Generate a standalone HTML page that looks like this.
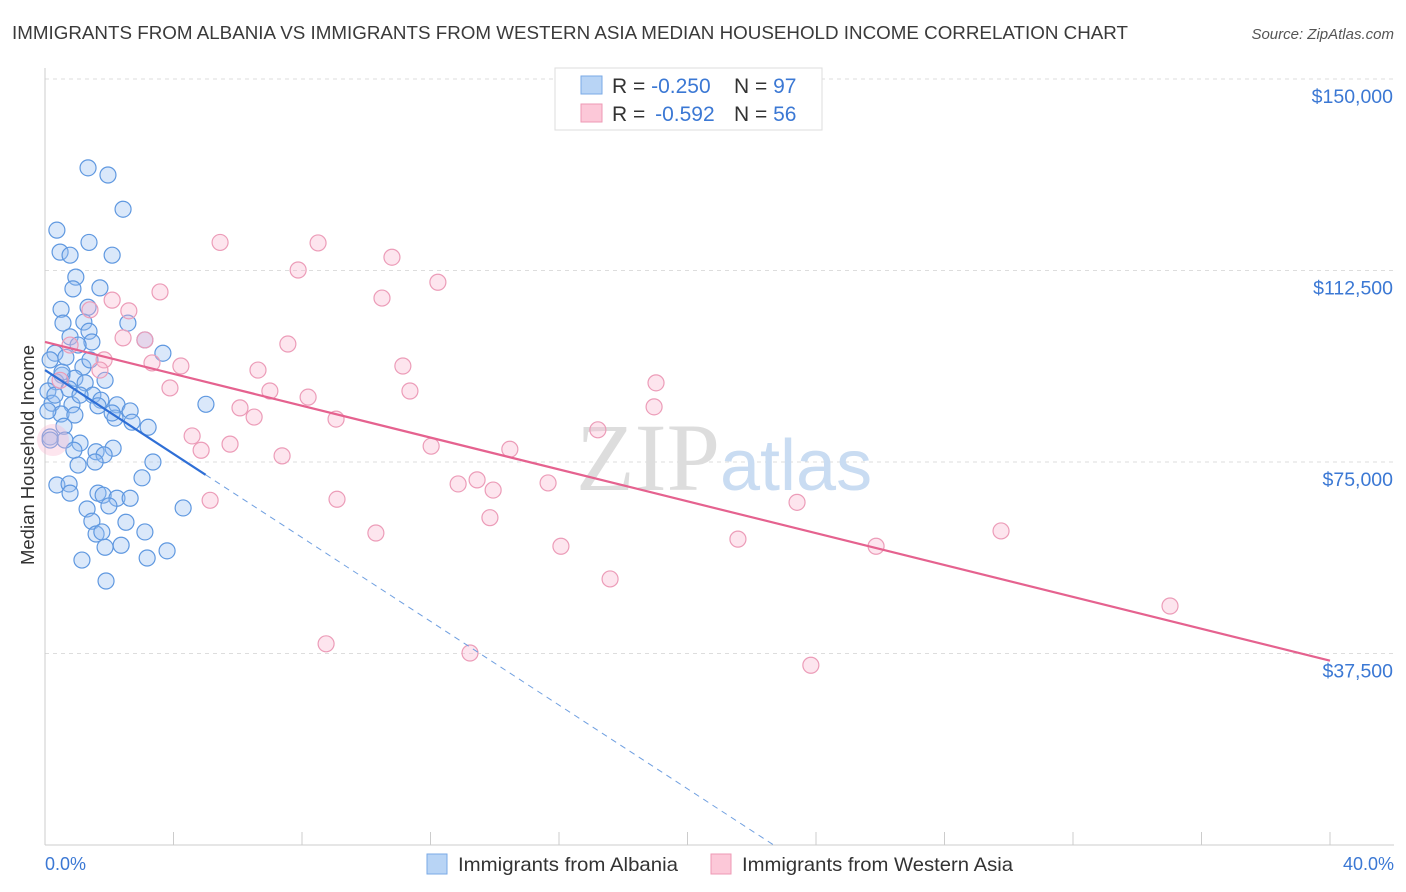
<!DOCTYPE html>
<html><head><meta charset="utf-8">
<style>
body{margin:0;background:#fff;font-family:"Liberation Sans",sans-serif;}
svg{display:block}
</style></head>
<body>
<svg id="chart" width="1406" height="892">
<text x="12" y="39" font-size="18.5" fill="#3a3a3a" textLength="1116" lengthAdjust="spacingAndGlyphs">IMMIGRANTS FROM ALBANIA VS IMMIGRANTS FROM WESTERN ASIA MEDIAN HOUSEHOLD INCOME CORRELATION CHART</text>
<text x="1394" y="39" font-size="15" fill="#555" text-anchor="end" font-style="italic">Source: ZipAtlas.com</text>
<g id="grid"></g>
<text x="720" y="490" font-size="96" font-family="Liberation Serif" fill="#ddd" text-anchor="end">ZIP</text>
<text x="720" y="490" font-size="72" fill="#c9dcf2">atlas</text>
<g id="marks"></g>
<text x="34" y="455" font-size="18.5" fill="#333" text-anchor="middle" transform="rotate(-90 34 455)">Median Household Income</text>
<g>
<rect x="555" y="68" width="267" height="62" fill="#fff" stroke="#ddd"/>
<rect x="581" y="76" width="21" height="18" fill="#b8d4f5" stroke="#7aaae6"/>
<rect x="581" y="104" width="21" height="18" fill="#fcc8d8" stroke="#ee99b4"/>
<text x="612" y="93" font-size="21" fill="#333">R = <tspan fill="#3b78d4">-0.250</tspan><tspan x="734">N = </tspan><tspan fill="#3b78d4">97</tspan></text>
<text x="612" y="121" font-size="21" fill="#333">R = <tspan fill="#3b78d4" dx="4">-0.592</tspan><tspan x="734">N = </tspan><tspan fill="#3b78d4">56</tspan></text>
</g>
<g>
<rect x="427" y="854" width="20" height="20" fill="#b8d4f5" stroke="#7aaae6"/>
<text x="458" y="871" font-size="19.5" fill="#333" textLength="220" lengthAdjust="spacingAndGlyphs">Immigrants from Albania</text>
<rect x="711" y="854" width="20" height="20" fill="#fcc8d8" stroke="#ee99b4"/>
<text x="742" y="871" font-size="19.5" fill="#333" textLength="271" lengthAdjust="spacingAndGlyphs">Immigrants from Western Asia</text>
</g>
<text x="45" y="870" font-size="18" fill="#3b78d4">0.0%</text>
<text x="1394" y="870" font-size="18" fill="#3b78d4" text-anchor="end">40.0%</text>
</svg>
<script>
const yTicks=[150000,112500,75000,37500];
const yTickLabels=["$150,000","$112,500","$75,000","$37,500"];
const albaniaX=[1.34,1.96,2.43,0.37,1.37,0.47,0.78,2.09,0.96,0.87,1.71,0.50,1.34,0.56,1.21,2.58,1.37,0.78,1.46,3.11,0.31,1.03,0.65,3.67,0.16,1.18,0.53,0.93,0.34,1.87,1.25,0.09,0.75,1.49,1.74,0.22,0.84,2.24,2.65,1.65,0.50,0.93,2.18,0.09,2.71,3.21,0.59,0.16,1.09,2.12,0.62,1.59,0.90,1.84,1.56,1.03,3.36,0.37,0.75,0.78,1.65,1.81,2.24,2.65,1.99,3.02,4.30,1.31,1.46,2.52,1.59,1.77,3.11,2.37,1.87,3.80,1.15,3.18,1.90,5.01,0.16,0.31,0.53,1.09,1.40,2.09];
const albaniaY=[132.6,131.2,124.5,120.4,118.0,116.1,115.5,115.5,111.2,108.9,109.1,104.9,105.3,102.2,102.4,102.2,100.6,99.5,98.5,98.9,96.3,97.9,95.5,96.3,95.0,93.6,92.0,91.4,90.7,91.0,90.5,88.9,89.3,88.1,87.1,86.5,86.2,86.2,85.0,86.0,84.4,84.2,83.6,85.0,82.8,81.8,82.0,79.9,78.7,77.7,79.3,77.0,77.3,76.4,75.0,74.4,75.0,70.5,70.7,68.9,68.9,68.5,67.9,67.9,66.4,71.9,66.0,65.8,63.4,63.2,60.9,61.3,61.3,58.7,58.3,57.6,55.8,56.2,51.7,86.3,79.3,88.1,92.6,88.1,95.0,84.6];
const westAsiaX=[5.45,8.50,10.80,7.88,12.23,10.49,3.58,2.09,2.61,1.40,2.43,3.11,7.56,1.84,3.33,4.23,11.14,6.63,19.02,3.89,7.00,11.36,8.19,6.07,18.96,6.51,9.06,17.21,4.58,14.47,5.76,12.02,4.86,7.38,13.45,12.86,13.95,15.66,9.09,5.14,23.41,13.85,29.76,10.30,21.57,16.06,25.87,17.59,35.02,8.75,13.23,23.84,0.78,0.47,1.71];
const westAsiaY=[118.0,117.9,115.1,112.6,110.2,107.1,108.3,106.7,104.6,104.8,99.3,98.9,98.1,95.0,94.4,93.8,93.8,93.0,90.5,89.5,88.9,88.9,87.7,85.6,85.8,83.8,83.4,81.3,80.1,77.5,78.5,78.1,77.3,76.2,71.5,70.7,69.5,70.9,67.7,67.5,67.1,64.1,61.5,61.1,59.9,58.5,58.5,52.1,46.8,39.4,37.6,35.2,97.9,91.0,93.0];
const albaniaTrend=[93.0,-4.1];
const westAsiaTrend=[98.5,-1.56];

const NS="http://www.w3.org/2000/svg";
const X=v=>45+v*(1330-45)/40;
const Y=v=>845-v*(845-79)/150000;
function mk(p,t,a){const e=document.createElementNS(NS,t);for(const k in a)e.setAttribute(k,a[k]);p.appendChild(e);return e;}
const grid=document.getElementById('grid'),marks=document.getElementById('marks');
yTicks.forEach((t,i)=>{
  const l=mk(grid,'line',{x1:45,x2:1394,y1:Y(t),y2:Y(t),stroke:'#ddd','stroke-dasharray':'4,4'});
  
  
  const tx=mk(grid,'text',{x:1393,y:Y(t)+24,'font-size':19.5,fill:'#3b78d4','text-anchor':'end'});
  tx.textContent=yTickLabels[i];
  
  
});
const ax=mk(grid,'line',{x1:45,x2:1394,y1:845,y2:845,stroke:'#ccc'});


const ay=mk(grid,'line',{x1:45,x2:45,y1:68,y2:845,stroke:'#ccc'});


for(let i=0;i<=10;i++){
  const t=mk(grid,'line',{x1:X(i*4),x2:X(i*4),y1:832,y2:845,stroke:'#ccc'});
  
  
}
albaniaX.forEach((x,i)=>{
  const c=mk(marks,'circle',{cx:X(x),cy:Y(albaniaY[i]*1000),r:8,fill:'rgba(150,190,240,0.35)',stroke:'#5f98e0','stroke-width':1.2});
  
  
});
westAsiaX.forEach((x,i)=>{
  const c=mk(marks,'circle',{cx:X(x),cy:Y(westAsiaY[i]*1000),r:8,fill:'rgba(250,180,205,0.35)',stroke:'#ec9cb8','stroke-width':1.2});
  
  
});
const big=mk(marks,'circle',{cx:X(0.25),cy:Y(79300),r:16,fill:'rgba(250,180,205,0.35)',stroke:'none'});


const a0=albaniaTrend[0],a1=albaniaTrend[1],xz=-a0/a1;
const bl=mk(marks,'line',{x1:X(0),y1:Y(a0*1000),x2:X(5),y2:Y((a0+a1*5)*1000),stroke:'#2f6fd6','stroke-width':2.2});


const bd=mk(marks,'line',{x1:X(5),y1:Y((a0+a1*5)*1000),x2:X(xz),y2:Y(0),stroke:'#6f9fe0','stroke-width':1,'stroke-dasharray':'6,5'});


const w0=westAsiaTrend[0],w1=westAsiaTrend[1];
const pl=mk(marks,'line',{x1:X(0),y1:Y(w0*1000),x2:X(40),y2:Y((w0+w1*40)*1000),stroke:'#e5628f','stroke-width':2.2});


</script>
</body></html>
